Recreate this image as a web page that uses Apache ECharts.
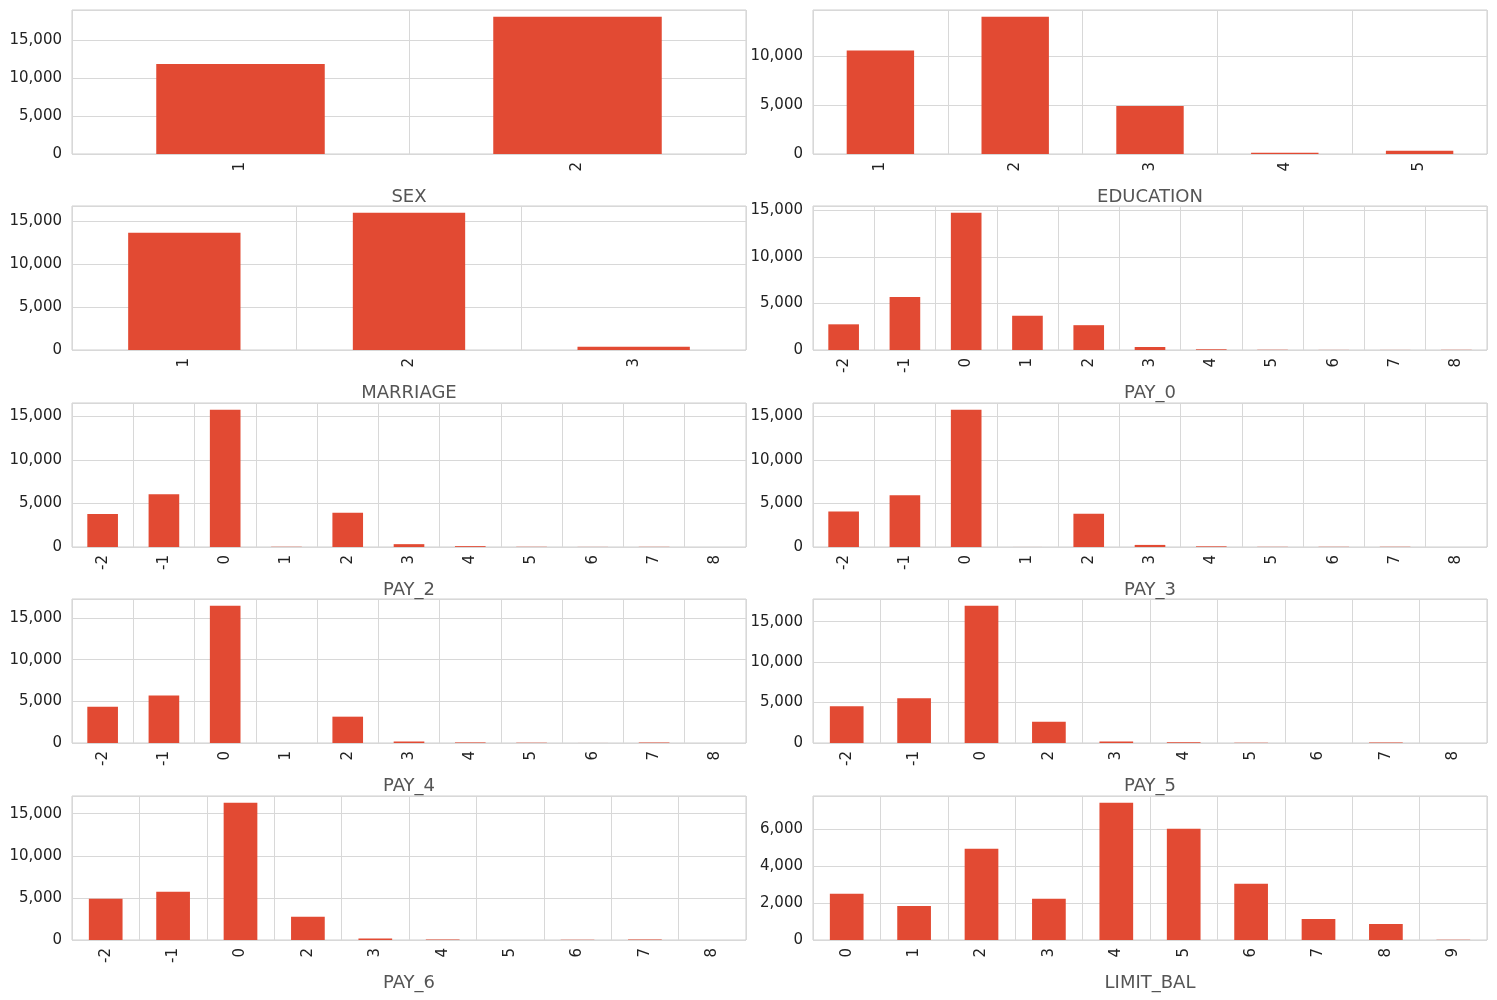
<!DOCTYPE html>
<html>
<head>
<meta charset="utf-8">
<script src="https://cdn.jsdelivr.net/npm/echarts@6/dist/echarts.min.js"></script>
<style>html,body{margin:0;padding:0;background:#fff}#main{width:1497px;height:1000px}</style>
</head>
<body>
<div id="main"></div>
<script>
var names = ['SEX', 'EDUCATION', 'MARRIAGE', 'PAY_0', 'PAY_2', 'PAY_3', 'PAY_4', 'PAY_5', 'PAY_6', 'LIMIT_BAL'];
var payCats = ['-2', '-1', '0', '1', '2', '3', '4', '5', '6', '7', '8'];
var payCatsNo1 = ['-2', '-1', '0', '2', '3', '4', '5', '6', '7', '8'];
var cats = [
  ['1', '2'],
  ['1', '2', '3', '4', '5'],
  ['1', '2', '3'],
  payCats, payCats, payCats, payCats,
  payCatsNo1, payCatsNo1,
  ['0', '1', '2', '3', '4', '5', '6', '7', '8', '9']
];
var sexVals = [11888, 18112];
var eduVals = [10585, 14030, 4917, 123, 345];
var marVals = [13659, 15964, 377];
var pay0Vals = [2759, 5686, 14737, 3688, 2667, 322, 76, 26, 11, 9, 19];
var pay2Vals = [3782, 6050, 15730, 28, 3927, 326, 99, 25, 12, 20, 1];
var pay3Vals = [4085, 5938, 15764, 4, 3819, 240, 76, 21, 23, 27, 3];
var pay4Vals = [4348, 5687, 16455, 2, 3159, 180, 69, 35, 5, 58, 2];
var pay5Vals = [4546, 5539, 16947, 2626, 178, 84, 17, 4, 58, 1];
var pay6Vals = [4895, 5740, 16286, 2766, 184, 49, 13, 19, 46, 2];
var limitVals = [2490, 1840, 4920, 2220, 7400, 6000, 3030, 1135, 865, 10];
var values = [sexVals, eduVals, marVals, pay0Vals, pay2Vals, pay3Vals, pay4Vals, pay5Vals, pay6Vals, limitVals];
var intervals = [5000, 5000, 5000, 5000, 5000, 5000, 5000, 5000, 5000, 2000];

var myChart = echarts.init(document.getElementById('main'));
var rowTops = [10, 206, 403, 599, 796];
var grids = [], xAxes = [], yAxes = [], series = [];
for (var i = 0; i < 10; i++) {
  var col = i % 2, row = Math.floor(i / 2);
  grids.push({
    left: col === 0 ? 72 : 813, width: 674, top: rowTops[row], height: 144,
    show: true, borderColor: '#cfcfcf', borderWidth: 1, backgroundColor: '#fff'
  });
  xAxes.push({
    type: 'category', gridIndex: i, data: cats[i],
    name: names[i], nameLocation: 'middle', nameGap: 34,
    nameTextStyle: { color: '#555', fontSize: 18, fontFamily: 'DejaVu Sans' },
    axisLine: { show: false }, axisTick: { show: false },
    axisLabel: { rotate: 90, color: '#222', fontSize: 15, fontFamily: 'DejaVu Sans', margin: 8 },
    splitLine: { show: true, interval: function (idx) { return true; }, lineStyle: { color: '#d8d8d8' } },
    splitArea: { show: false }
  });
  var mx = Math.max.apply(null, values[i]) * 1.05;
  yAxes.push({
    type: 'value', gridIndex: i, min: 0, max: mx, interval: intervals[i],
    axisLine: { show: false }, axisTick: { show: false },
    axisLabel: { color: '#222', fontSize: 15, fontFamily: 'DejaVu Sans', showMaxLabel: false, margin: 10 },
    splitLine: { lineStyle: { color: '#d8d8d8' } }
  });
  series.push({
    type: 'bar', xAxisIndex: i, yAxisIndex: i, data: values[i],
    barWidth: '50%', itemStyle: { color: '#E24A33' }, silent: true
  });
}
// shift category split lines onto bar centers
xAxes.forEach(function (a) { a.boundaryGap = true; });
option = { animation: false, grid: grids, xAxis: xAxes, yAxis: yAxes, series: series };
myChart.setOption(option);
</script>
</body>
</html>
